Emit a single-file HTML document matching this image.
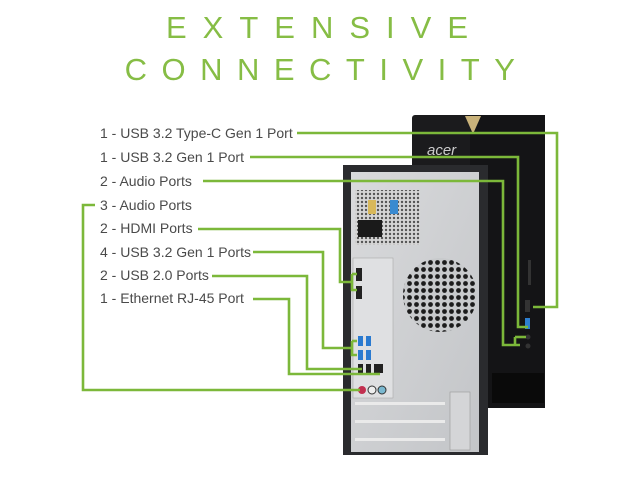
<!DOCTYPE html>
<html><head><meta charset="utf-8"><style>
html,body{margin:0;padding:0;background:#fff;}
svg{display:block}
.t{font-family:"Liberation Sans",sans-serif;font-size:31px;fill:#86bd45;font-weight:normal;}
.l{font-family:"Liberation Sans",sans-serif;font-size:14px;fill:#4a4a4a;}
.g{stroke:#7cb83a;stroke-width:2.6;fill:none;}
</style></head><body>
<svg width="640" height="480" viewBox="0 0 640 480" xmlns="http://www.w3.org/2000/svg">
<defs>
<pattern id="hex" width="7" height="7" patternUnits="userSpaceOnUse">
<rect width="7" height="7" fill="#c8cacc"/><circle cx="3.5" cy="3.5" r="2.4" fill="#1c1c1c"/></pattern>
<pattern id="mesh" width="4" height="4" patternUnits="userSpaceOnUse">
<rect width="4" height="4" fill="#d6d6d6"/><circle cx="2" cy="2" r="1.2" fill="#555"/></pattern>
<linearGradient id="sil" x1="0" x2="1" y1="0" y2="1"><stop offset="0" stop-color="#d9dadc"/><stop offset="1" stop-color="#c3c5c8"/></linearGradient>
</defs>
<text class="t" x="325" y="38" text-anchor="middle" letter-spacing="16">EXTENSIVE</text>
<text class="t" x="327" y="80" text-anchor="middle" letter-spacing="14.5">CONNECTIVITY</text>

<!-- front tower -->
<rect x="412" y="115" width="133" height="293" rx="3" fill="#1b1b1d"/>
<rect x="470" y="115" width="75" height="293" fill="#141416"/>
<polygon points="465,116 481,116 473,134" fill="#c9b27a"/>
<text x="427" y="155" font-family="Liberation Sans,sans-serif" font-style="italic" font-size="15" fill="#ccc">acer</text>
<rect x="492" y="373" width="52" height="30" fill="#0a0a0a"/>
<rect x="525" y="300" width="5" height="12" fill="#333"/>
<rect x="525" y="318" width="5" height="11" fill="#2d7fd0"/>
<circle cx="528" cy="337" r="2.5" fill="#333"/><circle cx="528" cy="346" r="2.5" fill="#333"/>
<rect x="528" y="260" width="3" height="25" fill="#333"/>

<!-- rear tower -->
<rect x="343" y="165" width="145" height="290" fill="#2a2b2e"/>
<rect x="351" y="172" width="128" height="280" fill="url(#sil)"/>
<rect x="355" y="190" width="65" height="55" fill="url(#mesh)"/>
<rect x="358" y="220" width="24" height="17" fill="#1a1a1a"/>
<rect x="368" y="200" width="8" height="14" fill="#d8b85a"/><rect x="390" y="200" width="8" height="14" fill="#3a8ad0"/>
<rect x="353" y="258" width="40" height="140" fill="#dfe0e2" stroke="#aaa" stroke-width="0.6"/>
<rect x="356" y="268" width="6" height="13" fill="#222"/><rect x="356" y="286" width="6" height="13" fill="#222"/>
<rect x="358" y="336" width="5" height="10" fill="#2a7ad0"/><rect x="366" y="336" width="5" height="10" fill="#2a7ad0"/>
<rect x="358" y="350" width="5" height="10" fill="#2a7ad0"/><rect x="366" y="350" width="5" height="10" fill="#2a7ad0"/>
<rect x="358" y="364" width="5" height="9" fill="#222"/><rect x="366" y="364" width="5" height="9" fill="#222"/><rect x="374" y="364" width="9" height="9" fill="#222"/>
<circle cx="362" cy="390" r="4" fill="#c23050"/><circle cx="372" cy="390" r="4" fill="#eee" stroke="#333"/><circle cx="382" cy="390" r="4" fill="#7ab8d0" stroke="#333"/>
<circle cx="440" cy="295" r="37" fill="url(#hex)"/>
<rect x="355" y="402" width="90" height="3" fill="#eaeaea"/><rect x="355" y="420" width="90" height="3" fill="#eaeaea"/><rect x="355" y="438" width="90" height="3" fill="#eaeaea"/>
<rect x="450" y="392" width="20" height="58" fill="#d4d5d7" stroke="#999" stroke-width="0.6"/>

<!-- labels -->
<text class="l" x="100" y="138">1 - USB 3.2 Type-C Gen 1 Port</text>
<text class="l" x="100" y="162">1 - USB 3.2 Gen 1 Port</text>
<text class="l" x="100" y="186">2 - Audio Ports</text>
<text class="l" x="100" y="210">3 - Audio Ports</text>
<text class="l" x="100" y="233">2 - HDMI Ports</text>
<text class="l" x="100" y="257">4 - USB 3.2 Gen 1 Ports</text>
<text class="l" x="100" y="280">2 - USB 2.0 Ports</text>
<text class="l" x="100" y="303">1 - Ethernet RJ-45 Port</text>

<!-- connectors -->
<polyline class="g" points="297,133 557,133 557,307 533,307"/>
<polyline class="g" points="250,157 518,157 518,327 528,327"/>
<polyline class="g" points="203,181 503,181 503,345 520,345"/>
<polyline class="g" points="515,337 515,345"/><polyline class="g" points="515,337 526,337"/>
<polyline class="g" points="95,205 83,205 83,390 360,390"/>
<polyline class="g" points="198,229 340,229 340,282 353,282"/>
<polyline class="g" points="352,274 352,290 357,290"/><polyline class="g" points="352,274 357,274"/>
<polyline class="g" points="253,252 323,252 323,348 352,348"/>
<polyline class="g" points="352,341 352,355 357,355"/><polyline class="g" points="352,341 357,341"/>
<polyline class="g" points="212,276 307,276 307,369 362,369"/>
<polyline class="g" points="253,299 289,299 289,374 380,374"/>
</svg>
</body></html>
